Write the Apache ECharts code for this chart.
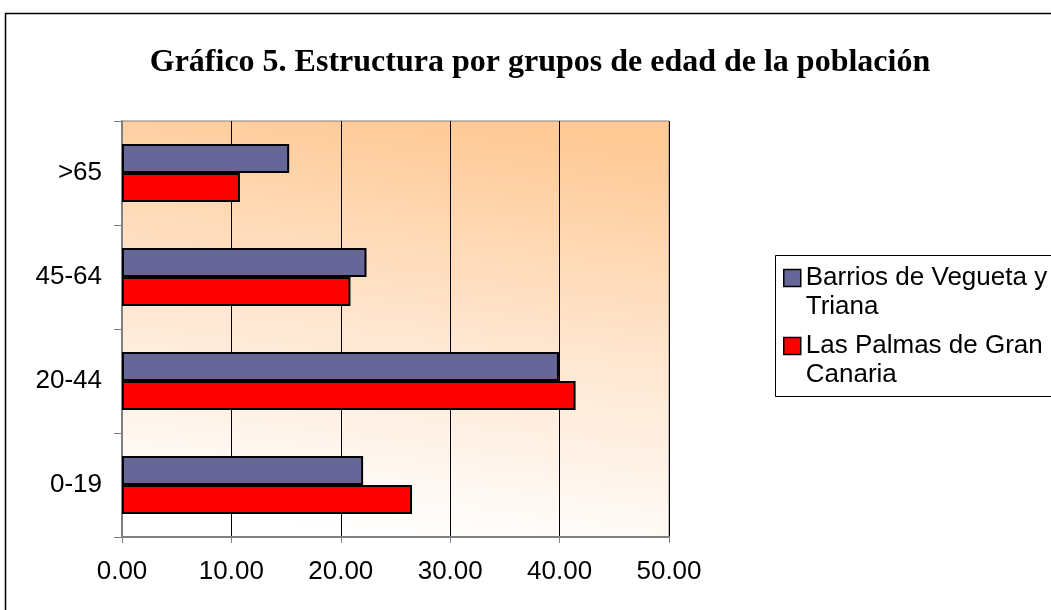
<!DOCTYPE html>
<html>
<head>
<meta charset="utf-8">
<script src="https://cdn.jsdelivr.net/npm/echarts@6/dist/echarts.min.js"></script>
<style>
  html, body { margin: 0; padding: 0; background: #fff; }
  #chart { width: 1051px; height: 610px; }
</style>
</head>
<body>
<div id="chart"></div>
<script>
// grupos de edad, de abajo a arriba
const categories = ['0-19', '20-44', '45-64', '>65']
const vegueta = [22.04, 39.94, 22.35, 15.28]
const lasPalmas = [26.51, 41.46, 20.88, 10.78]
const xTicks = [0, 10, 20, 30, 40, 50]

const nameVegueta = 'Barrios de Vegueta y\nTriana'
const namePalmas = 'Las Palmas de Gran\nCanaria'

const chart = echarts.init(document.getElementById('chart'))
const option = {
  animation: false,
  title: {
    text: 'Gráfico 5. Estructura por grupos de edad de la población',
    left: 535,
    textAlign: 'center',
    top: 42,
    textStyle: {
      fontFamily: '"Liberation Serif", "Times New Roman", serif',
      fontWeight: 'bold',
      fontSize: 32,
      color: '#000'
    }
  },
  legend: {
    orient: 'vertical',
    left: 778,
    top: 231,
    icon: 'rect',
    itemWidth: 17,
    itemHeight: 17,
    itemGap: -16,
    data: [nameVegueta, namePalmas],
    itemStyle: { borderColor: '#000', borderWidth: 1.5 },
    // linea vacia arriba para que el cuadro quede a la altura de la primera linea
    formatter: function (name) {
      return '{pad| }\n' + name.split('\n').map(s => '{t|' + s + '}').join('\n')
    },
    textStyle: {
      fontFamily: '"Liberation Sans", Arial, sans-serif',
      fontSize: 26,
      color: '#000',
      rich: {
        pad: { fontSize: 26, lineHeight: 29 },
        t: { fontSize: 26, lineHeight: 29, color: '#000', fontFamily: '"Liberation Sans", Arial, sans-serif' }
      }
    }
  },
  graphic: [
    { // marco exterior
      type: 'rect',
      shape: { x: 5.5, y: 13.5, width: 1100, height: 700 },
      style: { fill: 'none', stroke: '#000', lineWidth: 1.5 },
      silent: true
    },
    { // marco de la leyenda
      type: 'rect',
      shape: { x: 775.5, y: 255.5, width: 300, height: 141 },
      style: { fill: 'none', stroke: '#000', lineWidth: 1 },
      silent: true
    }
  ],
  grid: {
    left: 122,
    top: 121,
    width: 547,
    height: 416,
    show: true,
    borderColor: '#808080',
    borderWidth: 1,
    backgroundColor: new echarts.graphic.LinearGradient(0.55, 0, 0.45, 1, [
      { offset: 0, color: '#FFCA96' },
      { offset: 0.5, color: '#FFE6D0' },
      { offset: 1, color: '#FFFFFF' }
    ])
  },
  xAxis: {
    type: 'value',
    min: xTicks[0],
    max: xTicks[xTicks.length - 1],
    interval: 10,
    axisLine: { show: true, lineStyle: { color: '#808080', width: 2 } },
    axisTick: { show: true, length: 6, lineStyle: { color: '#808080' } },
    axisLabel: {
      margin: 22,
      fontFamily: '"Liberation Sans", Arial, sans-serif',
      fontSize: 26,
      color: '#000',
      formatter: function (v) { return v.toFixed(2) }
    },
    splitLine: { show: true, lineStyle: { color: '#000', width: 1 } }
  },
  yAxis: {
    type: 'category',
    data: categories,
    axisLine: { show: true, lineStyle: { color: '#808080', width: 2 } },
    axisTick: { show: true, length: 8, lineStyle: { color: '#808080' } },
    axisLabel: {
      margin: 20,
      fontFamily: '"Liberation Sans", Arial, sans-serif',
      fontSize: 26,
      color: '#000'
    }
  },
  series: [
    {
      name: nameVegueta,
      type: 'bar',
      data: vegueta,
      barWidth: 29,
      barGap: '0%',
      itemStyle: { color: '#666699', borderColor: '#000', borderWidth: 2 }
    },
    {
      name: namePalmas,
      type: 'bar',
      data: lasPalmas,
      barWidth: 29,
      barGap: '0%',
      itemStyle: { color: '#FF0000', borderColor: '#000', borderWidth: 2 }
    }
  ]
}
chart.setOption(option)
window.addEventListener('resize', () => {
  chart.resize()
})
</script>
</body>
</html>
